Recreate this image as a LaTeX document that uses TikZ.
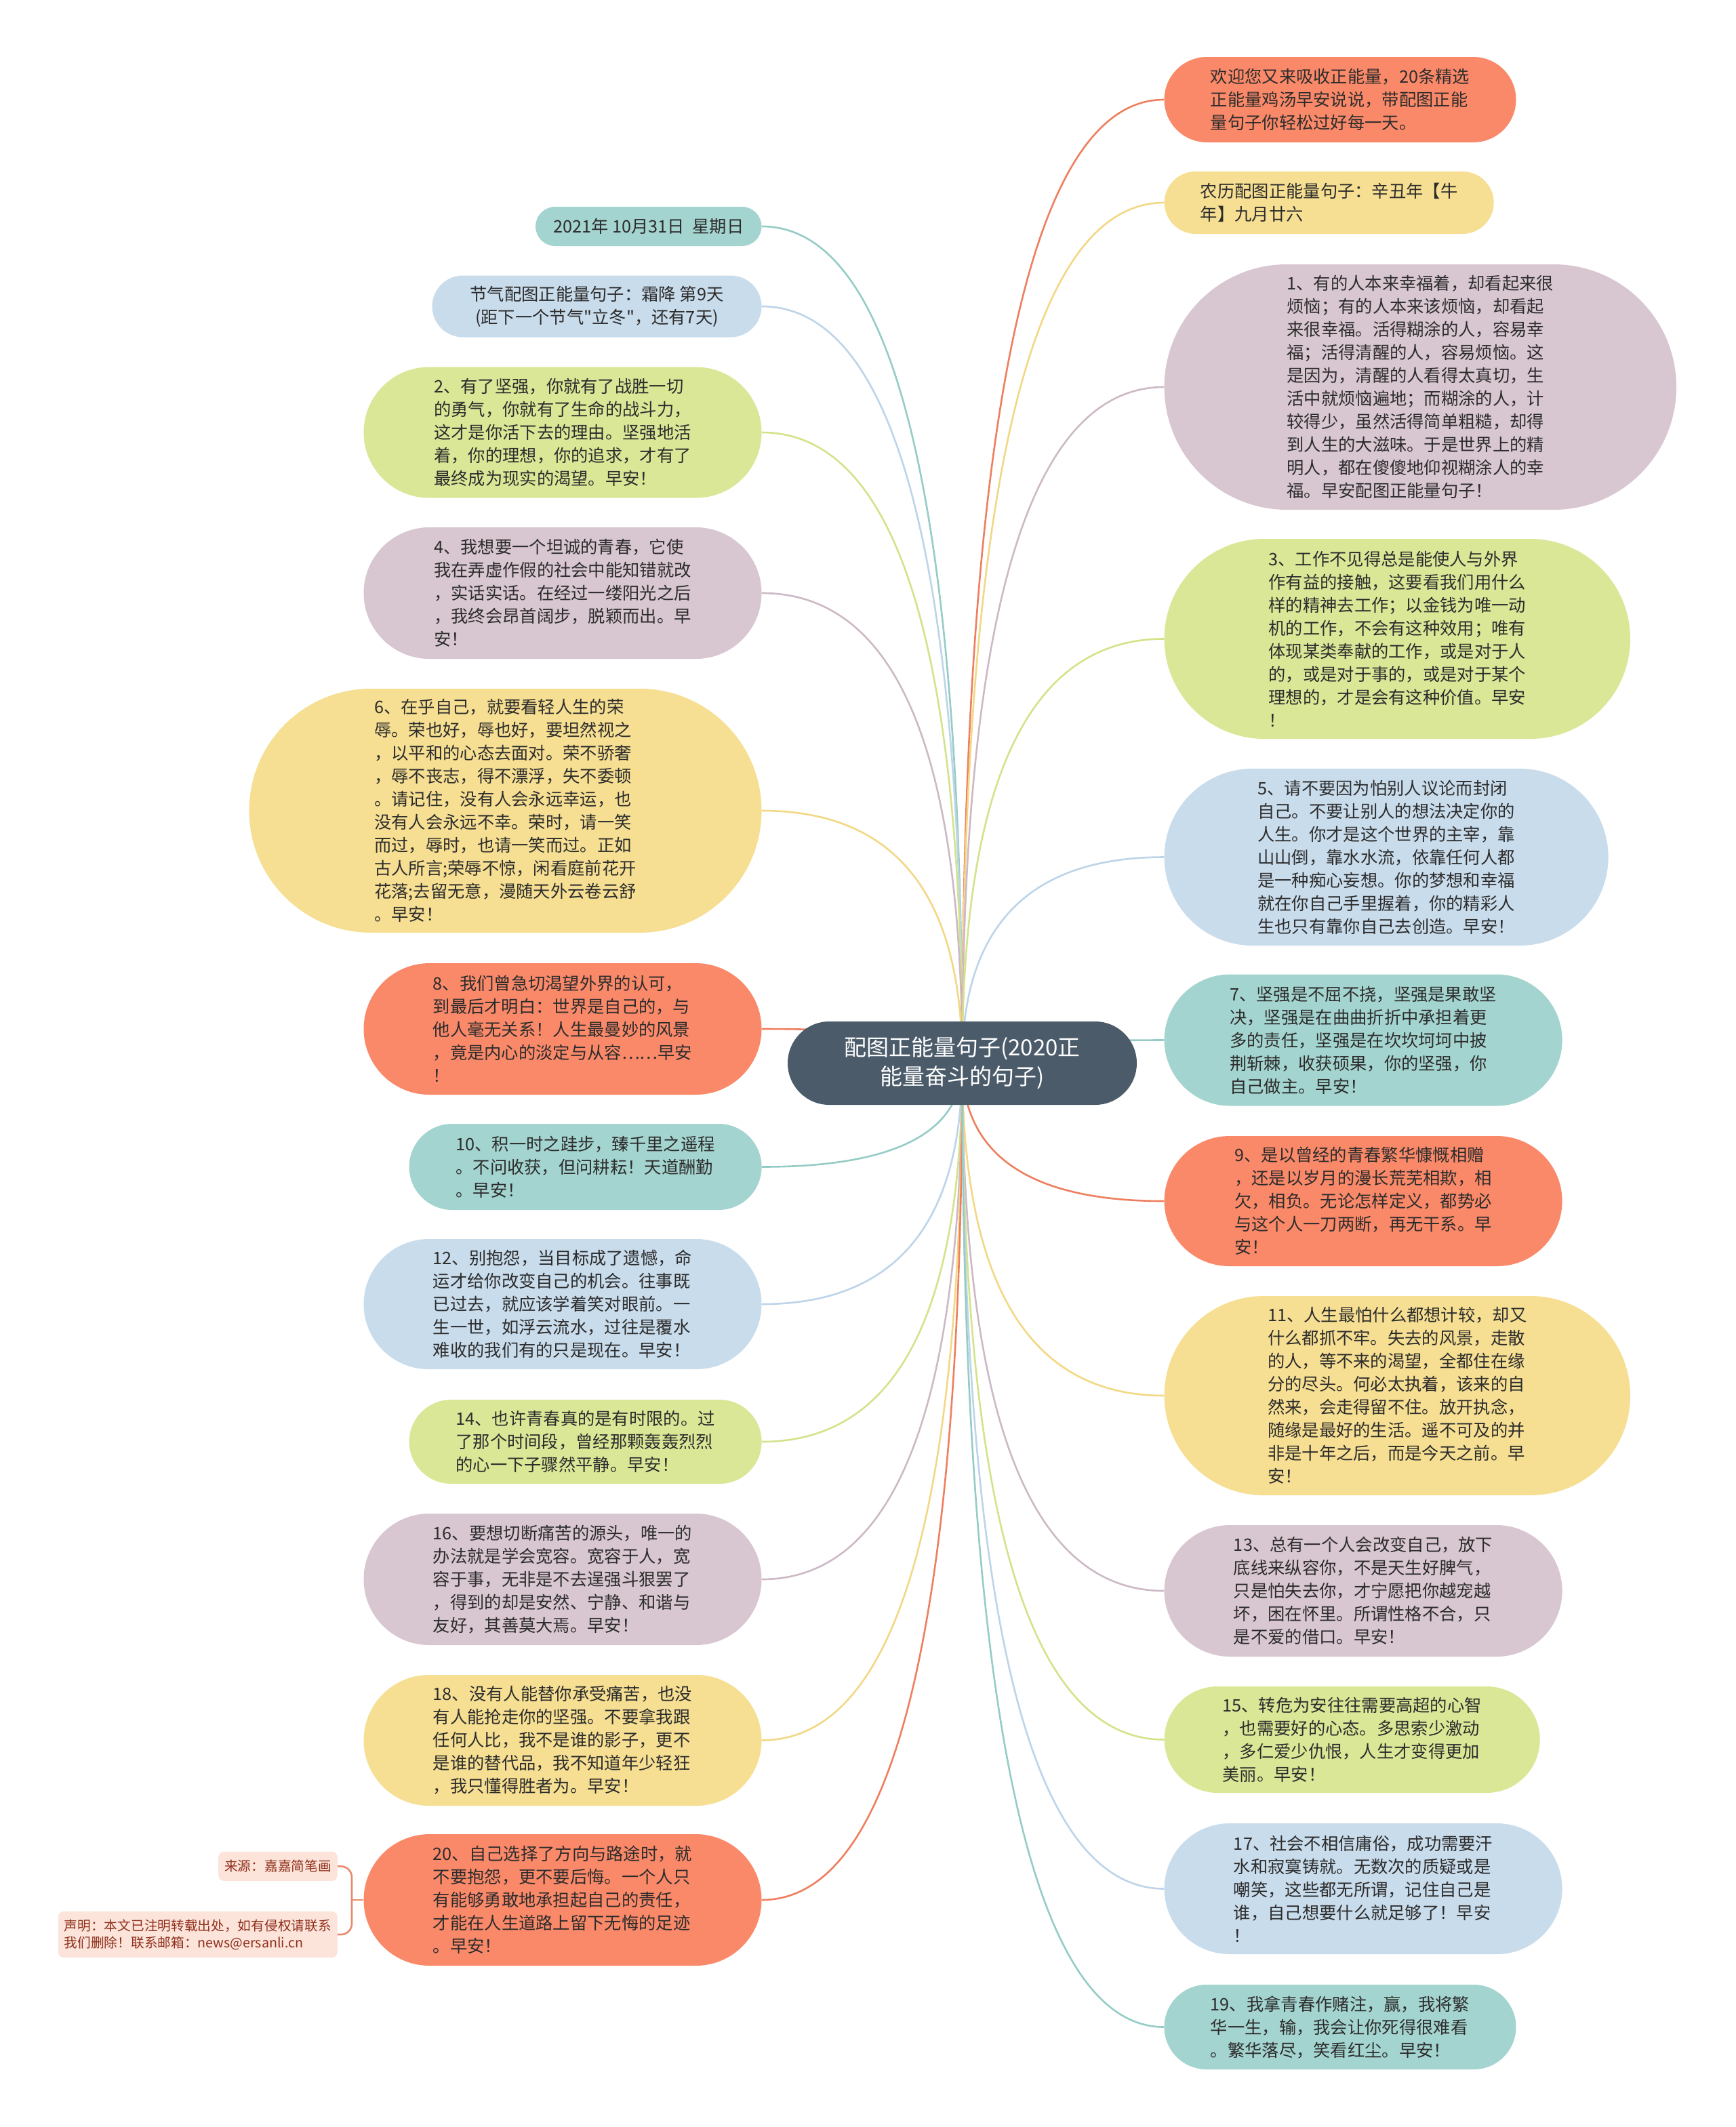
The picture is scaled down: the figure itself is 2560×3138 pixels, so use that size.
\documentclass[tikz,border=0pt]{standalone}
\usepackage{fontspec}
\setmainfont{Noto Sans CJK SC}[Ligatures=TeXOff]
\usetikzlibrary{shapes.misc,calc}
\pgfdeclarelayer{bg}
\pgfdeclarelayer{edges}
\pgfsetlayers{bg,edges,main}
\definecolor{cTeal}{HTML}{A4D4CF}
\definecolor{cBlue}{HTML}{C9DCEC}
\definecolor{cGreen}{HTML}{D9E797}
\definecolor{cMauve}{HTML}{D8C6D0}
\definecolor{cYellow}{HTML}{F6DF92}
\definecolor{cCoral}{HTML}{FA8969}
\definecolor{lTeal}{HTML}{96CCC6}
\definecolor{lBlue}{HTML}{BDD4E9}
\definecolor{lGreen}{HTML}{D3E38A}
\definecolor{lMauve}{HTML}{CDB9C6}
\definecolor{lYellow}{HTML}{F2D885}
\definecolor{lCoral}{HTML}{EE7F5E}
\definecolor{cRoot}{HTML}{4B5B6A}
\definecolor{cText}{HTML}{2C2C2C}
\definecolor{cSrcFill}{HTML}{FCE4DB}
\definecolor{cSrcText}{HTML}{8F2F1A}
\definecolor{cSrcLine}{HTML}{E98A6C}
\newcommand\mmlink[2]{%
  \path (root.center |- #1) coordinate (mmc);
  \draw[conn,draw=#2] (root.center) .. controls ($(root.center)!0.667!(mmc)$) and ($(#1)!0.667!(mmc)$) .. (#1);}
\begin{document}
\begin{tikzpicture}[x=1pt,y=-1pt,
  pill/.style={rounded rectangle, inner sep=0pt, text=cText, align=left,
    font=\fontsize{25.3}{34}\selectfont},
  rootbox/.style={rounded rectangle, inner sep=0pt, fill=cRoot, text=white, align=center,
    font=\fontsize{33}{43}\selectfont},
  srcbox/.style={rectangle, rounded corners=8pt, fill=cSrcFill, text=cSrcText, align=left,
    inner xsep=9pt, inner ysep=0pt, anchor=east, font=\fontsize{19.7}{25}\selectfont},
  conn/.style={line width=2.6pt}]
\begin{pgfonlayer}{bg}
\fill[white] (0,0) rectangle (2560,3138);
\end{pgfonlayer}
\useasboundingbox (0,0) rectangle (2560,3138);

% root
\node[rootbox, minimum width=515pt, minimum height=123pt] (root) at (1419.5,1568.5)
  {配图正能量句子(2020正\\能量奋斗的句子)};

% left column
\node[pill, fill=cTeal, minimum width=333.5pt, minimum height=58pt] (L0) at (956.75,334)
  {2021年 10月31日 \ 星期日};
\node[pill, fill=cBlue, align=center, minimum width=486pt, minimum height=91pt] (L1) at (880.5,452)
  {节气配图正能量句子：霜降 第9天\\(距下一个节气"立冬"，还有7天)};
\node[pill, fill=cGreen, minimum width=587pt, minimum height=193pt] (L2) at (830,638)
  {2、有了坚强，你就有了战胜一切\\的勇气，你就有了生命的战斗力，\\这才是你活下去的理由。坚强地活\\着，你的理想，你的追求，才有了\\最终成为现实的渴望。早安！};
\node[pill, fill=cMauve, minimum width=587pt, minimum height=194pt] (L3) at (830,875)
  {4、我想要一个坦诚的青春，它使\\我在弄虚作假的社会中能知错就改\\，实话实话。在经过一缕阳光之后\\，我终会昂首阔步，脱颖而出。早\\安！};
\node[pill, fill=cYellow, minimum width=756pt, minimum height=360pt] (L4) at (745.5,1196)
  {6、在乎自己，就要看轻人生的荣\\辱。荣也好，辱也好，要坦然视之\\，以平和的心态去面对。荣不骄奢\\，辱不丧志，得不漂浮，失不委顿\\。请记住，没有人会永远幸运，也\\没有人会永远不幸。荣时，请一笑\\而过，辱时，也请一笑而过。正如\\古人所言;荣辱不惊，闲看庭前花开\\花落;去留无意，漫随天外云卷云舒\\。早安！};
\node[pill, fill=cCoral, minimum width=587pt, minimum height=194pt] (L5) at (830,1518)
  {8、我们曾急切渴望外界的认可，\\到最后才明白：世界是自己的，与\\他人毫无关系！人生最曼妙的风景\\，竟是内心的淡定与从容……早安\\！};
\node[pill, fill=cTeal, minimum width=520pt, minimum height=127pt] (L6) at (863.6,1721.5)
  {10、积一时之跬步，臻千里之遥程\\。不问收获，但问耕耘！天道酬勤\\。早安！};
\node[pill, fill=cBlue, minimum width=587pt, minimum height=192pt] (L7) at (830,1924)
  {12、别抱怨，当目标成了遗憾，命\\运才给你改变自己的机会。往事既\\已过去，就应该学着笑对眼前。一\\生一世，如浮云流水，过往是覆水\\难收的我们有的只是现在。早安！};
\node[pill, fill=cGreen, minimum width=520pt, minimum height=124pt] (L8) at (863.6,2127)
  {14、也许青春真的是有时限的。过\\了那个时间段，曾经那颗轰轰烈烈\\的心一下子骤然平静。早安！};
\node[pill, fill=cMauve, minimum width=587pt, minimum height=194pt] (L9) at (830,2330)
  {16、要想切断痛苦的源头，唯一的\\办法就是学会宽容。宽容于人，宽\\容于事，无非是不去逞强斗狠罢了\\，得到的却是安然、宁静、和谐与\\友好，其善莫大焉。早安！};
\node[pill, fill=cYellow, minimum width=587pt, minimum height=193pt] (L10) at (830,2567.5)
  {18、没有人能替你承受痛苦，也没\\有人能抢走你的坚强。不要拿我跟\\任何人比，我不是谁的影子，更不\\是谁的替代品，我不知道年少轻狂\\，我只懂得胜者为。早安！};
\node[pill, fill=cCoral, minimum width=587pt, minimum height=194pt] (L11) at (830,2803)
  {20、自己选择了方向与路途时，就\\不要抱怨，更不要后悔。一个人只\\有能够勇敢地承担起自己的责任，\\才能在人生道路上留下无悔的足迹\\。早安！};

% right column
\node[pill, fill=cCoral, minimum width=519pt, minimum height=126pt] (R0) at (1977,147)
  {欢迎您又来吸收正能量，20条精选\\正能量鸡汤早安说说，带配图正能\\量句子你轻松过好每一天。};
\node[pill, fill=cYellow, minimum width=486pt, minimum height=92pt] (R1) at (1960.7,299)
  {农历配图正能量句子：辛丑年【牛\\年】九月廿六};
\node[pill, fill=cMauve, minimum width=755.4pt, minimum height=362pt] (R2) at (2095.3,571)
  {1、有的人本来幸福着，却看起来很\\烦恼；有的人本来该烦恼，却看起\\来很幸福。活得糊涂的人，容易幸\\福；活得清醒的人，容易烦恼。这\\是因为，清醒的人看得太真切，生\\活中就烦恼遍地；而糊涂的人，计\\较得少，虽然活得简单粗糙，却得\\到人生的大滋味。于是世界上的精\\明人，都在傻傻地仰视糊涂人的幸\\福。早安配图正能量句子！};
\node[pill, fill=cGreen, minimum width=687.4pt, minimum height=295pt] (R3) at (2061.3,942.5)
  {3、工作不见得总是能使人与外界\\作有益的接触，这要看我们用什么\\样的精神去工作；以金钱为唯一动\\机的工作，不会有这种效用；唯有\\体现某类奉献的工作，或是对于人\\的，或是对于事的，或是对于某个\\理想的，才是会有这种价值。早安\\！};
\node[pill, fill=cBlue, minimum width=655pt, minimum height=261pt] (R4) at (2045.1,1264.5)
  {5、请不要因为怕别人议论而封闭\\自己。不要让别人的想法决定你的\\人生。你才是这个世界的主宰，靠\\山山倒，靠水水流，依靠任何人都\\是一种痴心妄想。你的梦想和幸福\\就在你自己手里握着，你的精彩人\\生也只有靠你自己去创造。早安！};
\node[pill, fill=cTeal, minimum width=587pt, minimum height=194pt] (R5) at (2011.1,1534.5)
  {7、坚强是不屈不挠，坚强是果敢坚\\决，坚强是在曲曲折折中承担着更\\多的责任，坚强是在坎坎坷坷中披\\荆斩棘，收获硕果，你的坚强，你\\自己做主。早安！};
\node[pill, fill=cCoral, minimum width=587pt, minimum height=192pt] (R6) at (2011.1,1772)
  {9、是以曾经的青春繁华慷慨相赠\\，还是以岁月的漫长荒芜相欺，相\\欠，相负。无论怎样定义，都势必\\与这个人一刀两断，再无干系。早\\安！};
\node[pill, fill=cYellow, minimum width=687.4pt, minimum height=294pt] (R7) at (2061.3,2059)
  {11、人生最怕什么都想计较，却又\\什么都抓不牢。失去的风景，走散\\的人，等不来的渴望，全都住在缘\\分的尽头。何必太执着，该来的自\\然来，会走得留不住。放开执念，\\随缘是最好的生活。遥不可及的并\\非是十年之后，而是今天之前。早\\安！};
\node[pill, fill=cMauve, minimum width=587pt, minimum height=194pt] (R8) at (2011.1,2347)
  {13、总有一个人会改变自己，放下\\底线来纵容你，不是天生好脾气，\\只是怕失去你，才宁愿把你越宠越\\坏，困在怀里。所谓性格不合，只\\是不爱的借口。早安！};
\node[pill, fill=cGreen, minimum width=554pt, minimum height=157pt] (R9) at (1994.7,2566.5)
  {15、转危为安往往需要高超的心智\\，也需要好的心态。多思索少激动\\，多仁爱少仇恨，人生才变得更加\\美丽。早安！};
\node[pill, fill=cBlue, minimum width=587pt, minimum height=193pt] (R10) at (2011.1,2786.5)
  {17、社会不相信庸俗，成功需要汗\\水和寂寞铸就。无数次的质疑或是\\嘲笑，这些都无所谓，记住自己是\\谁，自己想要什么就足够了！早安\\！};
\node[pill, fill=cTeal, minimum width=519pt, minimum height=125pt] (R11) at (1977,2990.5)
  {19、我拿青春作赌注，赢，我将繁\\华一生，输，我会让你死得很难看\\。繁华落尽，笑看红尘。早安！};

% source notes
\node[srcbox, minimum height=43pt] (src1) at (498,2753.4) {来源：嘉嘉简笔画};
\node[srcbox, minimum height=68pt] (src2) at (498,2854) {声明：本文已注明转载出处，如有侵权请联系\\我们删除！联系邮箱：news@ersanli.cn};
\coordinate (j) at (519,2803);

% connectors
\begin{pgfonlayer}{edges}
\mmlink{L0.east}{lTeal}
\mmlink{L1.east}{lBlue}
\mmlink{L2.east}{lGreen}
\mmlink{L3.east}{lMauve}
\mmlink{L4.east}{lYellow}
\mmlink{L5.east}{lCoral}
\mmlink{L6.east}{lTeal}
\mmlink{L7.east}{lBlue}
\mmlink{L8.east}{lGreen}
\mmlink{L9.east}{lMauve}
\mmlink{L10.east}{lYellow}
\mmlink{L11.east}{lCoral}
\mmlink{R0.west}{lCoral}
\mmlink{R1.west}{lYellow}
\mmlink{R2.west}{lMauve}
\mmlink{R3.west}{lGreen}
\mmlink{R4.west}{lBlue}
\mmlink{R5.west}{lTeal}
\mmlink{R6.west}{lCoral}
\mmlink{R7.west}{lYellow}
\mmlink{R8.west}{lMauve}
\mmlink{R9.west}{lGreen}
\mmlink{R10.west}{lBlue}
\mmlink{R11.west}{lTeal}
\draw[conn, draw=cSrcLine] (L11.west) -- (j);
\draw[conn, draw=cSrcLine, rounded corners=16pt] (src1.east) -| (j) |- (src2.east);
\end{pgfonlayer}
\end{tikzpicture}
\end{document}
